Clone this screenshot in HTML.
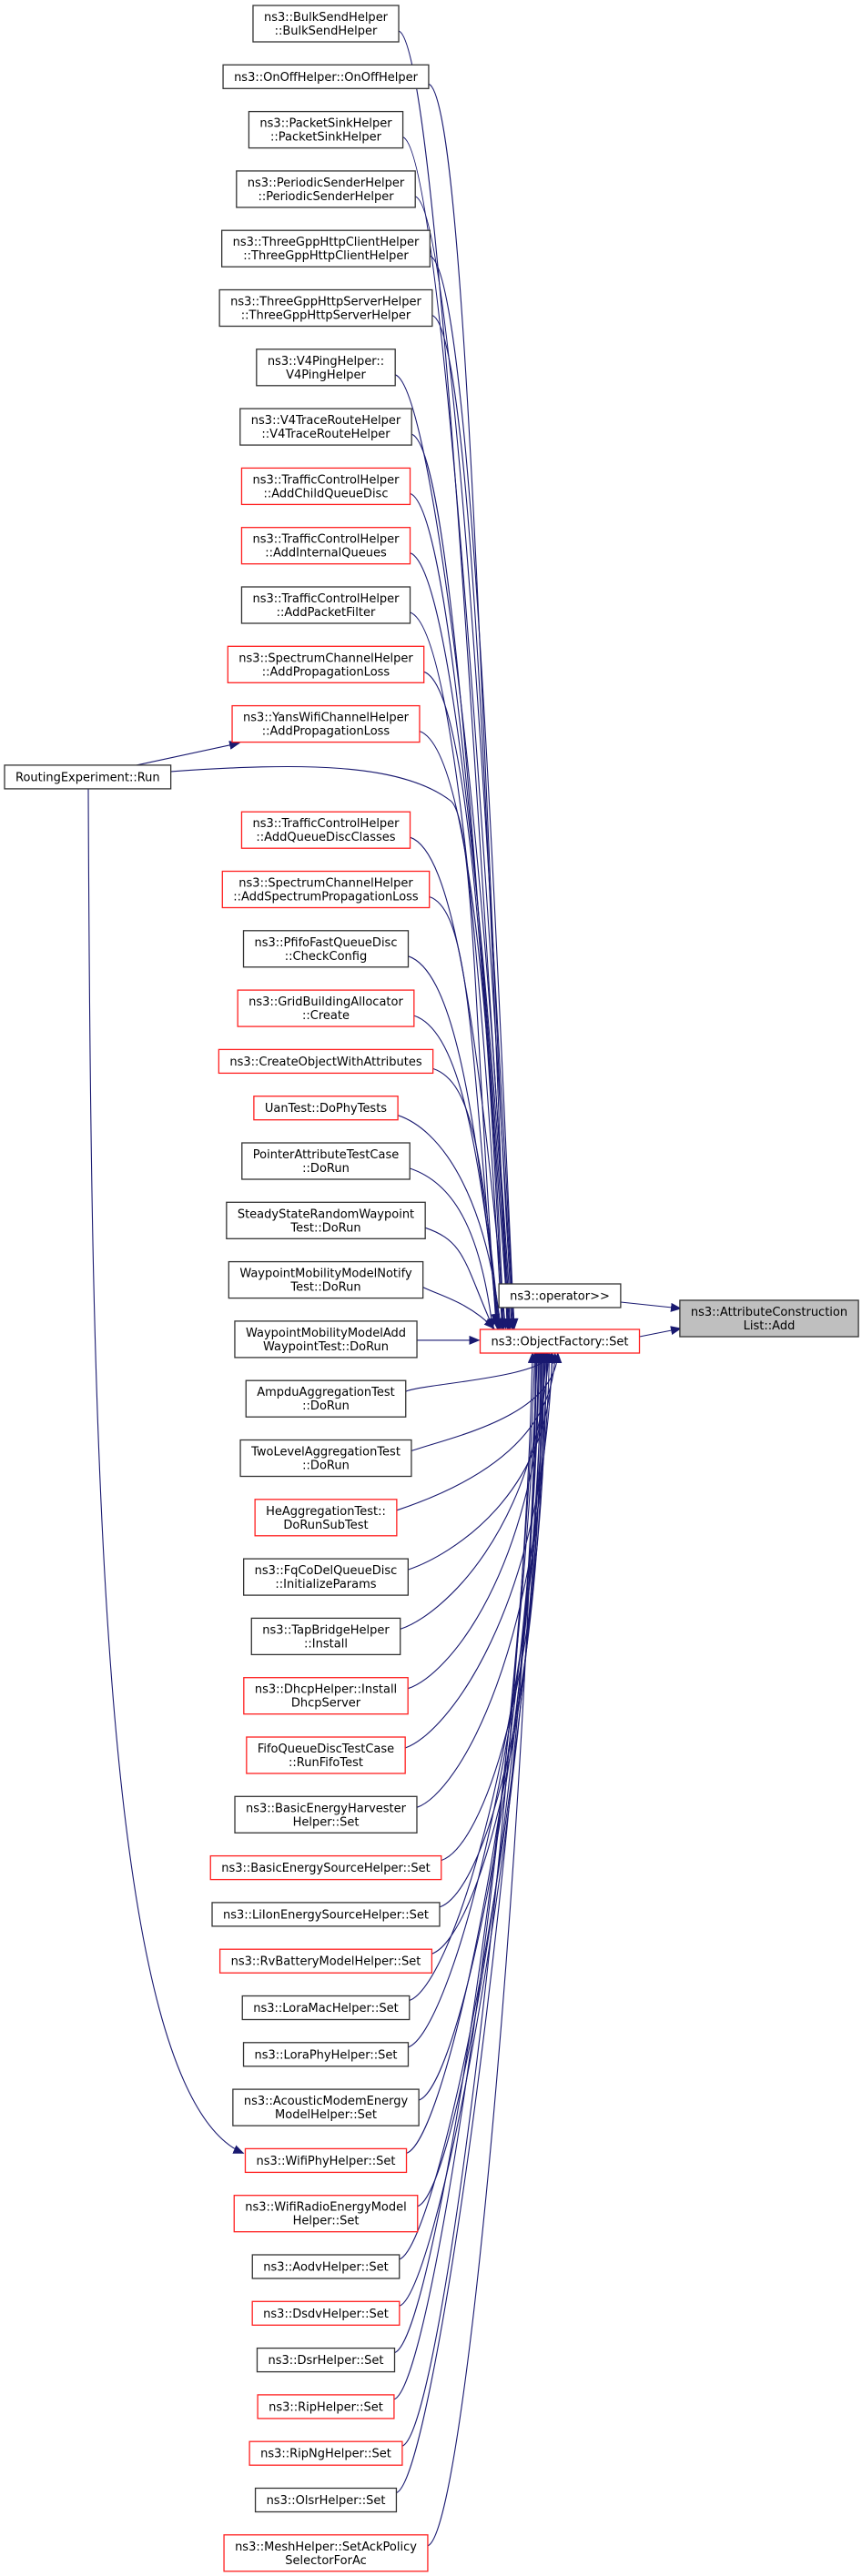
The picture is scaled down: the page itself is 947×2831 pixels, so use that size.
<!DOCTYPE html>
<html><head><meta charset="utf-8"><style>
html,body{margin:0;padding:0;background:#fff;}
svg{display:block;}
text{font-family:"DejaVu Sans","Liberation Sans",sans-serif;font-size:13px;fill:#000;}
</style></head><body>
<svg id="s" xmlns="http://www.w3.org/2000/svg" width="947" height="2831" viewBox="0 0 947 2831">
<defs><marker id="a" markerWidth="12" markerHeight="10" refX="11" refY="5" orient="auto" markerUnits="userSpaceOnUse"><path d="M0,0 L12,5 L0,10 z" fill="#191970"/></marker></defs>
<g id="edges" fill="none" stroke="#191970" stroke-width="1.1"></g>
<g id="nodes"></g>
</svg>
<script>
var N=[
[["ns3::BulkSendHelper","::BulkSendHelper"],0],
[["ns3::OnOffHelper::OnOffHelper"],0],
[["ns3::PacketSinkHelper","::PacketSinkHelper"],0],
[["ns3::PeriodicSenderHelper","::PeriodicSenderHelper"],0],
[["ns3::ThreeGppHttpClientHelper","::ThreeGppHttpClientHelper"],0],
[["ns3::ThreeGppHttpServerHelper","::ThreeGppHttpServerHelper"],0],
[["ns3::V4PingHelper::","V4PingHelper"],0],
[["ns3::V4TraceRouteHelper","::V4TraceRouteHelper"],0],
[["ns3::TrafficControlHelper","::AddChildQueueDisc"],1],
[["ns3::TrafficControlHelper","::AddInternalQueues"],1],
[["ns3::TrafficControlHelper","::AddPacketFilter"],0],
[["ns3::SpectrumChannelHelper","::AddPropagationLoss"],1],
[["ns3::YansWifiChannelHelper","::AddPropagationLoss"],1],
[["RoutingExperiment::Run"],0,"R"],
[["ns3::TrafficControlHelper","::AddQueueDiscClasses"],1],
[["ns3::SpectrumChannelHelper","::AddSpectrumPropagationLoss"],1],
[["ns3::PfifoFastQueueDisc","::CheckConfig"],0],
[["ns3::GridBuildingAllocator","::Create"],1],
[["ns3::CreateObjectWithAttributes"],1],
[["UanTest::DoPhyTests"],1],
[["PointerAttributeTestCase","::DoRun"],0],
[["SteadyStateRandomWaypoint","Test::DoRun"],0],
[["WaypointMobilityModelNotify","Test::DoRun"],0],
[["WaypointMobilityModelAdd","WaypointTest::DoRun"],0],
[["AmpduAggregationTest","::DoRun"],0],
[["TwoLevelAggregationTest","::DoRun"],0],
[["HeAggregationTest::","DoRunSubTest"],1],
[["ns3::FqCoDelQueueDisc","::InitializeParams"],0],
[["ns3::TapBridgeHelper","::Install"],0],
[["ns3::DhcpHelper::Install","DhcpServer"],1],
[["FifoQueueDiscTestCase","::RunFifoTest"],1],
[["ns3::BasicEnergyHarvester","Helper::Set"],0],
[["ns3::BasicEnergySourceHelper::Set"],1],
[["ns3::LiIonEnergySourceHelper::Set"],0],
[["ns3::RvBatteryModelHelper::Set"],1],
[["ns3::LoraMacHelper::Set"],0],
[["ns3::LoraPhyHelper::Set"],0],
[["ns3::AcousticModemEnergy","ModelHelper::Set"],0],
[["ns3::WifiPhyHelper::Set"],1],
[["ns3::WifiRadioEnergyModel","Helper::Set"],1],
[["ns3::AodvHelper::Set"],0],
[["ns3::DsdvHelper::Set"],1],
[["ns3::DsrHelper::Set"],0],
[["ns3::RipHelper::Set"],1],
[["ns3::RipNgHelper::Set"],1],
[["ns3::OlsrHelper::Set"],0],
[["ns3::MeshHelper::SetAckPolicy","SelectorForAc"],1]
];
var NS="http://www.w3.org/2000/svg";
var G=document.getElementById('nodes'),E=document.getElementById('edges');
function el(t,a,p){var e=document.createElementNS(NS,t);for(var k in a)e.setAttribute(k,a[k]);(p||G).appendChild(e);return e;}
function box(lines,cx,top,red,fill,fixedX){
  var h=lines.length==2?40:26;
  var ts=[],w=0;
  lines.forEach(function(l,i){var t=el('text',{x:cx,y:top+(lines.length==2?(i==0?17:32):17.5),'text-anchor':'middle'});t.textContent=l;ts.push(t);w=Math.max(w,t.getComputedTextLength());});
  var bw=w+24,x=fixedX!==undefined?fixedX:cx-bw/2;
  if(fixedX!==undefined){ts.forEach(function(t){t.setAttribute('x',x+bw/2);});}
  var r=el('rect',{x:x,y:top,width:bw,height:h,fill:fill||'#fff',stroke:red?'#ff2020':'#333','stroke-width':1.3});
  G.insertBefore(r,ts[0]);
  return {x:x,y:top,w:bw,h:h};
}
var SET=box(["ns3::ObjectFactory::Set"],615,1461,1);
var OP=box(["ns3::operator>>"],615,1411,0);
var ACL=box(["ns3::AttributeConstruction","List::Add"],845,1429,0,'#bfbfbf');
el('path',{d:'M'+(OP.x+OP.w)+',1431 L748,1438','marker-end':'url(#a)'},E);
el('path',{d:'M'+(SET.x+SET.w)+',1469 L748,1460','marker-end':'url(#a)'},E);
var y=6,boxes=[];
N.forEach(function(n,i){
  var b;
  if(n[2]=="R"){b=box(n[0],0,y,0,null,5);} else b=box(n[0],358,y,n[1]);
  boxes.push(b);
  y+=b.h+25.3;
});
boxes.forEach(function(b,i){
  var xr=b.x+b.w,ym=b.y+b.h/2,d;
  if(N[i][2]=="R"){
    var Y=boxes[12];
    el('path',{d:'M150,'+b.y+' L'+(Y.x+8)+','+(Y.y+Y.h+1),'marker-end':'url(#a)'},E);
    el('path',{d:'M'+xr+','+(ym-6)+' C330,838 440,838 495,880 C520,900 520,1100 545,1455','marker-end':'url(#a)'},E);
    el('path',{d:'M97,'+(b.y+b.h)+' C100,1600 110,2300 '+(boxes[38].x-2)+','+(boxes[38].y+5),'marker-end':'url(#a)'},E);
    return;
  }
  if(i==23){el('path',{d:'M'+xr+','+(ym+1)+' L'+(SET.x-1)+','+(ym+1),'marker-end':'url(#a)'},E);return;}
  var tipx,tipy,sy,dy;
  if(ym<1461){ sy=ym+8; tipy=1460; tipx=Math.min(565,538+(1461-ym)/1461*25+(i%5)*2); dy=tipy-sy; }
  else { sy=ym-8; tipy=1487; tipx=Math.max(585,615-(ym-1487)/1340*25-(i%5)*2); dy=sy-tipy; }
  var c2=Math.min(dy*0.65,420);
  if(ym<1461){
    var bx=tipx-32+(i%7)*3;
    d='M'+xr+','+sy+' C'+(xr+Math.min(45,dy*0.4))+','+(sy+Math.min(15,dy*0.2))+' '+bx+','+(tipy-c2)+' '+tipx+','+tipy;
  } else {
    var bx2=tipx-15+(i%7)*3;
    d='M'+xr+','+sy+' C'+(xr+Math.min(45,dy*0.4))+','+(sy-Math.min(15,dy*0.2))+' '+bx2+','+(tipy+c2)+' '+tipx+','+tipy;
  }
  el('path',{d:d,'marker-end':'url(#a)'},E);
});
</script>
</body></html>
